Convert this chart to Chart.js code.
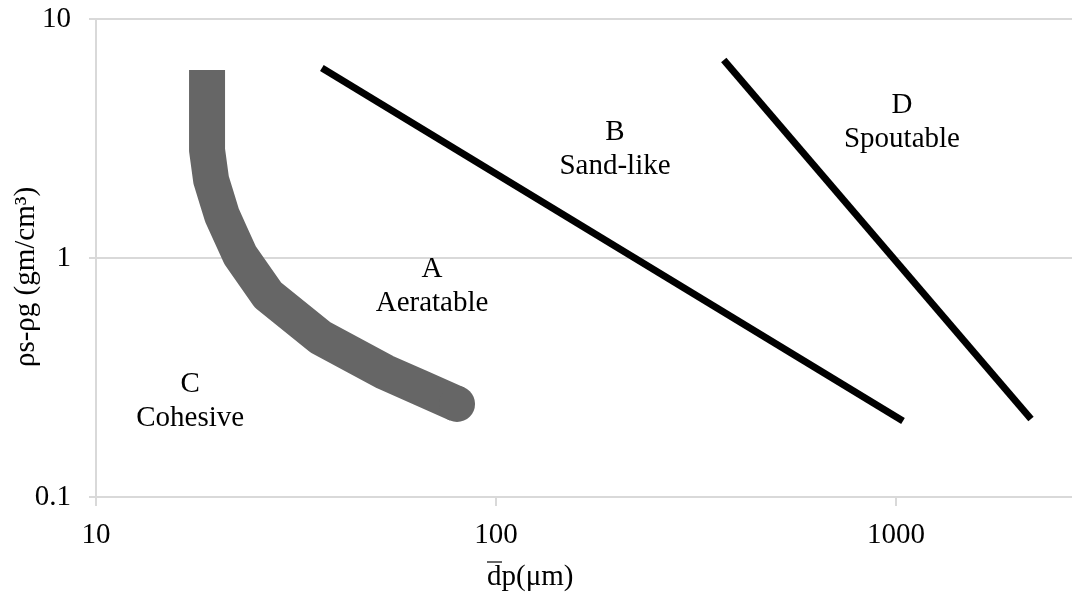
<!DOCTYPE html>
<html>
<head>
<meta charset="utf-8">
<script src="https://cdn.jsdelivr.net/npm/chart.js@4/dist/chart.umd.min.js"></script>
<style>
  html, body { margin: 0; padding: 0; background: #fff; }
  canvas { display: block; }
</style>
</head>
<body>
<canvas id="chart" width="1072" height="592"></canvas>
<script>
// ===================== DATA =====================
// C/A boundary (thick grey band)
const caX = [18.95, 18.95, 19.4, 20.65, 22.9, 26.9, 36.3, 52.8, 79.9];
const caY = [6.12, 2.83, 2.12, 1.51, 1.03, 0.70, 0.467, 0.333, 0.245];

// A/B boundary
const abX = [36.7, 1041];
const abY = [6.24, 0.208];

// B/D boundary
const bdX = [371, 2175];
const bdY = [6.74, 0.212];

const xTicks = [10, 100, 1000];
const yTicks = [0.1, 1, 10];

// group letters and names, anchored in data units
const groupLetters = ["A", "B", "C", "D"];
const groupNames = ["Aeratable", "Sand-like", "Cohesive", "Spoutable"];
const groupX = [69.2, 198.4, 17.2, 1035];
const groupY = [0.833, 3.12, 0.275, 4.04];

const FONT = "'Liberation Serif', 'Times New Roman', serif";

function toPoints(xs, ys) {
  return xs.map((x, i) => ({ x: x, y: ys[i] }));
}

// ===================== TEXT PLUGIN =====================
const textPlugin = {
  id: "geldartText",
  afterDraw(chart) {
    const ctx = chart.ctx;
    const sx = chart.scales.x;
    const sy = chart.scales.y;

    ctx.save();
    ctx.fillStyle = "#000";
    ctx.font = "29px " + FONT;
    ctx.textAlign = "center";
    ctx.textBaseline = "alphabetic";

    groupLetters.forEach((letter, i) => {
      const px = sx.getPixelForValue(groupX[i]);
      const py = sy.getPixelForValue(groupY[i]);
      ctx.fillText(letter, px, py);
      ctx.fillText(groupNames[i], px, py + 34);
    });

    // x title with bar over d
    ctx.textAlign = "left";
    ctx.fillText("dp(\u03bcm)", 487, 585);
    ctx.strokeStyle = "#000";
    ctx.lineWidth = 1.2;
    ctx.beginPath();
    ctx.moveTo(487, 562);
    ctx.lineTo(502, 562);
    ctx.stroke();

    // y title
    ctx.translate(34, 277);
    ctx.rotate(-Math.PI / 2);
    ctx.textAlign = "center";
    ctx.fillText("\u03c1s-\u03c1g (gm/cm\u00b3)", 0, 0);
    ctx.restore();
  }
};

// ===================== CHART =====================
const lastIdx = caX.length - 1;

new Chart(document.getElementById("chart"), {
  type: "scatter",
  data: {
    datasets: [
      {
        data: toPoints(caX, caY),
        showLine: true,
        borderColor: "#666666",
        borderWidth: 36,
        borderCapStyle: "butt",
        borderJoinStyle: "round",
        // only the lower end gets a round cap
        pointRadius: c => (c.dataIndex === lastIdx ? 18 : 0),
        pointHoverRadius: 0,
        pointBackgroundColor: "#666666",
        pointBorderWidth: 0,
        // tiny tension keeps the normal path (fast path folds the vertical start)
        tension: 0.001
      },
      {
        data: toPoints(abX, abY),
        showLine: true,
        borderColor: "#000",
        borderWidth: 7,
        borderCapStyle: "butt",
        pointRadius: 0
      },
      {
        data: toPoints(bdX, bdY),
        showLine: true,
        borderColor: "#000",
        borderWidth: 7,
        borderCapStyle: "butt",
        pointRadius: 0
      }
    ]
  },
  options: {
    responsive: false,
    animation: false,
    layout: { autoPadding: false, padding: { top: 19, right: 0, left: 0, bottom: 0 } },
    plugins: {
      legend: { display: false },
      tooltip: { enabled: false }
    },
    scales: {
      x: {
        type: "logarithmic",
        min: 10,
        max: 2754,
        afterBuildTicks: s => { s.ticks = xTicks.map(v => ({ value: v })); },
        afterFit: s => {
          s.height = 95;
          s.paddingLeft = 0;
          s.paddingRight = 0;
        },
        grid: {
          drawOnChartArea: false,
          color: "#d9d9d9",
          lineWidth: 2,
          tickLength: 9
        },
        border: { color: "#d9d9d9", width: 2 },
        ticks: {
          color: "#000",
          font: { family: FONT, size: 29 },
          padding: 12,
          maxRotation: 0,
          callback: v => String(v)
        }
      },
      y: {
        type: "logarithmic",
        min: 0.1,
        max: 10,
        afterBuildTicks: s => { s.ticks = yTicks.map(v => ({ value: v })); },
        afterFit: s => {
          s.width = 96;
          s.paddingTop = 0;
          s.paddingBottom = 0;
        },
        grid: {
          color: "#d9d9d9",
          lineWidth: 2,
          tickLength: 7
        },
        border: { color: "#d9d9d9", width: 2 },
        ticks: {
          color: "#000",
          font: { family: FONT, size: 29 },
          padding: 18,
          callback: v => String(v)
        }
      }
    }
  },
  plugins: [textPlugin]
});
</script>
</body>
</html>
